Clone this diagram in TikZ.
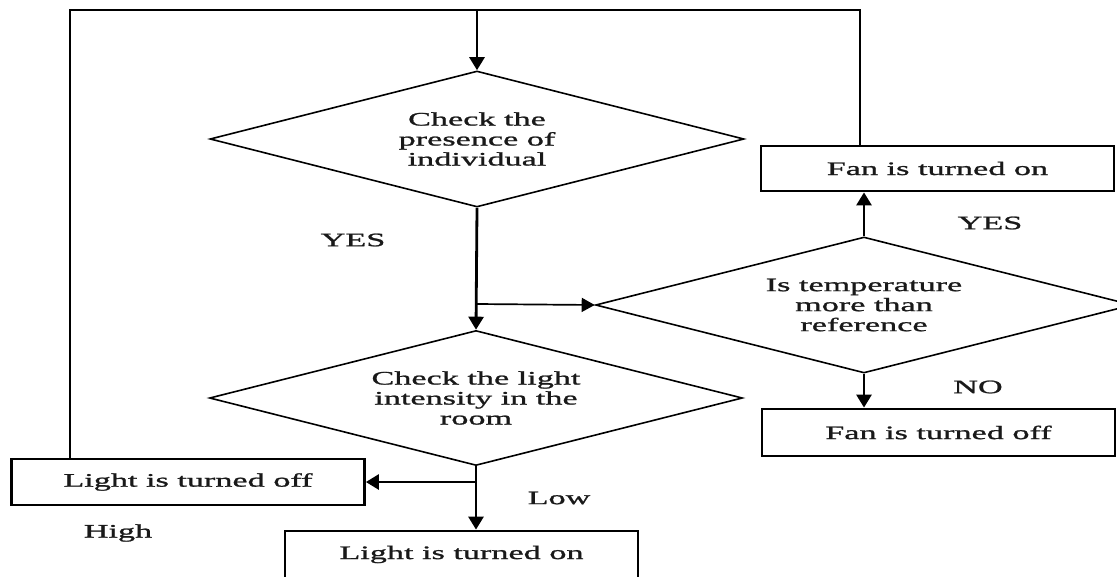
\documentclass[tikz,border=0pt]{standalone}
\usepackage{fontspec}
\newfontfamily\tnr{Liberation Serif}[FakeStretch=1.8,FakeBold=1.2]
\usetikzlibrary{shapes.geometric,arrows.meta}
\begin{document}
\begin{tikzpicture}[x=1pt,y=-1pt,
  txt/.style={font=\tnr\fontsize{19}{20}\selectfont, text=black!90},
  dia/.style={shape=diamond, draw, line width=1.6pt, aspect=3.9, inner sep=0pt, align=center, txt},
  box/.style={draw, line width=2.8pt, minimum width=353pt, minimum height=46pt, inner sep=0pt, txt},
  flow/.style={line width=2.8pt, -{Triangle[length=13pt,width=15pt]}},
  thin/.style={line width=1.7pt, -{Triangle[length=13pt,width=14pt]}},
  loop/.style={line width=2.2pt},
  lbl/.style={txt, inner sep=0pt}]
\path[use as bounding box] (0,0) rectangle (1117,576);
\clip (0,0) rectangle (1117,576);
\fill[white] (0,0) rectangle (1117,576);
% nodes
\node[dia, minimum width=534pt, minimum height=136pt] (d1) at (477,139) {Check the\\presence of\\individual};
\node[dia, minimum width=533pt, minimum height=135pt] (d2) at (476,398) {Check the light\\intensity in the\\room};
\node[dia, minimum width=537pt, minimum height=136pt] (d3) at (864,305) {Is temperature\\more than\\reference};
\node[box, minimum height=45pt] (fanon) at (937.5,168.5) {Fan is turned on};
\node[box, minimum height=47pt] (fanoff) at (938.5,432.5) {Fan is turned off};
\node[box] (lightoff) at (188,482) {Light is turned off};
\node[box, minimum height=47pt] (lighton) at (461.5,554.5) {Light is turned on};
% labels
\node[lbl] (yes1) at (353,240) {YES};
\node[lbl] (yes2) at (990,223) {YES};
\node[lbl] (no) at (978,387) {NO};
\node[lbl] (low) at (559,498) {Low};
\node[lbl] (high) at (118,533) {High};
% helper coordinates
\coordinate (tl) at (70,10);
\coordinate (tr) at (860,10);
\coordinate (tm) at (477,10);
\coordinate (br) at (477,304);
% connectors
\draw[loop] (lightoff.north -| tl) -- (tl) -- (tr) -- (fanon.north -| tr);
\draw[flow] (tm) -- (d1.north);
\draw[flow] (d1.south) -- (d2.north);
\draw[thin] (br) -- (d3.west);
\draw[flow] (d3.north) -- (fanon.south -| d3.north);
\draw[flow] (d3.south) -- (fanoff.north -| d3.south);
\draw[flow] (d2.south) -- (lighton.north -| d2.south);
\draw[flow] (d2.south |- lightoff.east) -- (lightoff.east);
\end{tikzpicture}
\end{document}
